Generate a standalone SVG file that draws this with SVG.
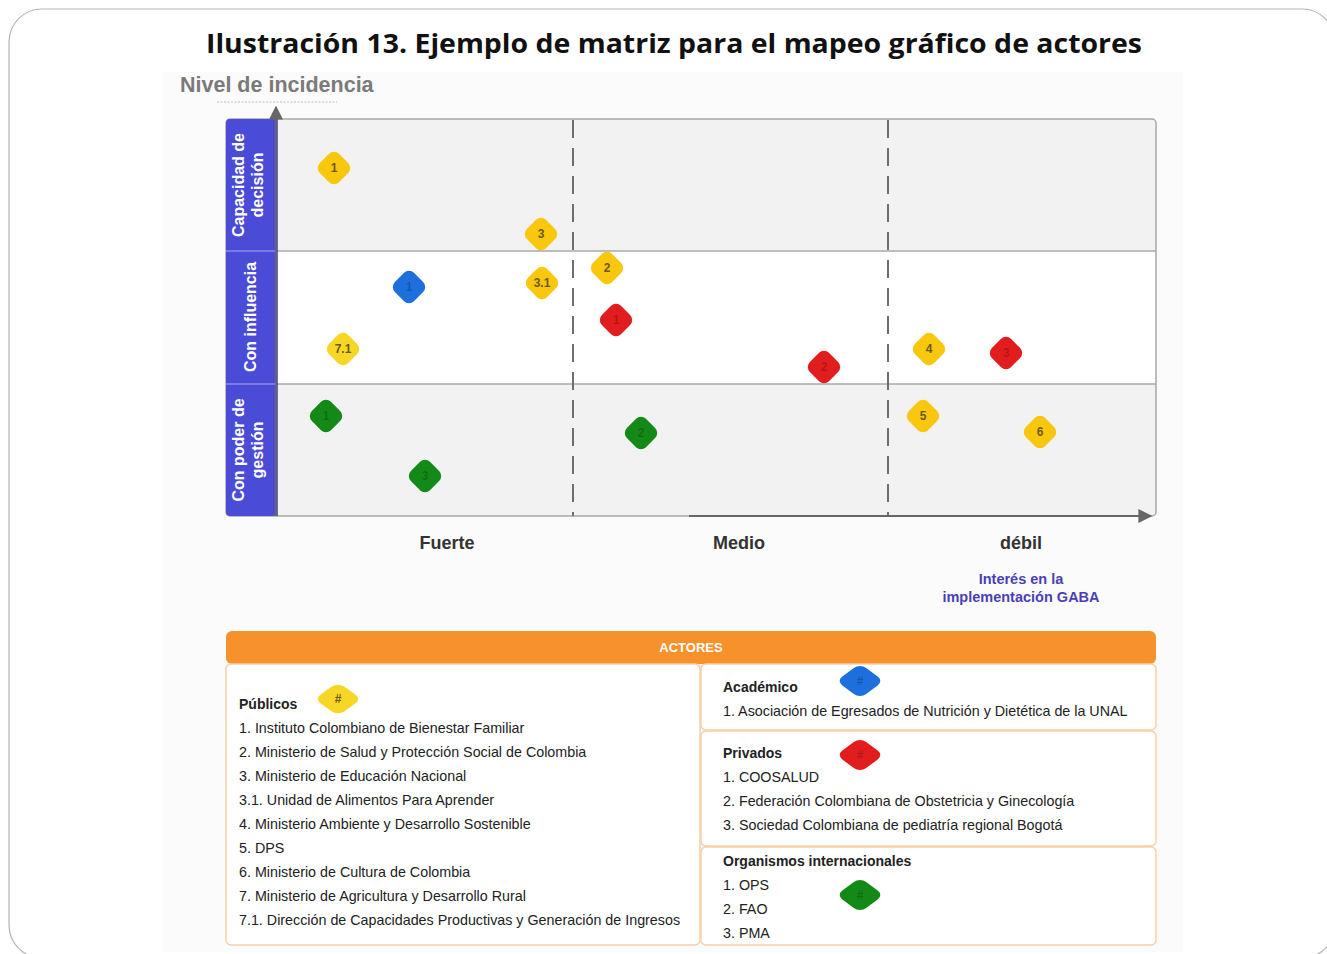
<svg xmlns="http://www.w3.org/2000/svg" xmlns:xlink="http://www.w3.org/1999/xlink" width="1327" height="954" viewBox="0 0 1327 954">
<style>
.title{font-family:"Open Sans","Noto Sans",sans-serif;font-weight:700;font-size:27px;fill:#111}
.axis{font-family:"Liberation Sans",Arial,sans-serif;font-weight:700;font-size:21.5px;fill:#7a7a7a}
.band{font-family:"Liberation Sans",Arial,sans-serif;font-weight:700;font-size:16px;fill:#fff}
.col{font-family:"Liberation Sans",Arial,sans-serif;font-weight:700;font-size:18px;fill:#333}
.interes{font-family:"Liberation Sans",Arial,sans-serif;font-weight:700;font-size:14.5px;fill:#4a3fb5}
.mk{font-family:"Liberation Sans",Arial,sans-serif;font-weight:700;font-size:12px;text-anchor:middle;dominant-baseline:central}
.mky{fill:#6b5a12}
.mkd{fill:#000;fill-opacity:0.22}
.hd{font-family:"Liberation Sans",Arial,sans-serif;font-weight:700;font-size:14px;fill:#222}
.it{font-family:"Liberation Sans",Arial,sans-serif;font-size:14.3px;fill:#222}
.box{fill:#fff;stroke:#f7cfa8;stroke-width:1.5}
.dash{stroke:#6e6e6e;stroke-width:2;stroke-dasharray:18 10;fill:none}
.grid{stroke:#a8a8a8;stroke-width:1.5;fill:none}
</style>
<defs>
<rect id="dia" x="-13.5" y="-13.5" width="27" height="27" rx="7" transform="rotate(45)"/>
<marker id="arr" viewBox="0 0 10 10" refX="9" refY="5" markerWidth="7" markerHeight="7" orient="auto"><path d="M0,0 L10,5 L0,10 z" fill="#666"/></marker>
</defs>
<!-- card -->
<rect x="9" y="9" width="1326" height="949" rx="33" fill="#fff" stroke="#b5b5b5" stroke-width="1.2"/>
<rect x="163" y="72" width="1020" height="880" fill="#fbfbfb"/>
<text class="title" x="674" y="53" text-anchor="middle" textLength="936" lengthAdjust="spacingAndGlyphs">Ilustración 13. Ejemplo de matriz para el mapeo gráfico de actores</text>
<!-- matrix -->
<g id="matrix">
<rect x="276" y="119" width="880" height="397" rx="4" fill="#f2f2f3"/>
<rect x="276" y="251" width="880" height="133" fill="#fff"/>
<rect x="226" y="119" width="930" height="397" rx="4" fill="none" stroke="#a8a8a8" stroke-width="1.5"/>
<line class="grid" x1="276" y1="251" x2="1156" y2="251"/>
<line class="grid" x1="276" y1="384" x2="1156" y2="384"/>
<line class="dash" x1="573" y1="120" x2="573" y2="516"/>
<line class="dash" x1="888" y1="120" x2="888" y2="516"/>
</g>
<g id="band">
<rect x="226" y="119" width="51" height="397" rx="4" fill="#4a4bd6"/>
<line x1="226" y1="251" x2="277" y2="251" stroke="#8c8ce6" stroke-width="1.5"/>
<line x1="226" y1="384" x2="277" y2="384" stroke="#8c8ce6" stroke-width="1.5"/>
<line x1="277" y1="119" x2="277" y2="516" stroke="#3a3aa8" stroke-width="1.5"/>
<text class="band" transform="translate(244,185) rotate(-90)" text-anchor="middle">Capacidad de</text>
<text class="band" transform="translate(263,185) rotate(-90)" text-anchor="middle">decisión</text>
<text class="band" transform="translate(256,317) rotate(-90)" text-anchor="middle">Con influencia</text>
<text class="band" transform="translate(244,450) rotate(-90)" text-anchor="middle">Con poder de</text>
<text class="band" transform="translate(263,450) rotate(-90)" text-anchor="middle">gestión</text>
</g>
<g id="connectors">
<line x1="276" y1="516" x2="276" y2="107" stroke="#666" stroke-width="2" marker-end="url(#arr)"/>
<line x1="689" y1="516" x2="1151" y2="516" stroke="#666" stroke-width="2" marker-end="url(#arr)"/>
</g>
<g id="axis-labels">
<text class="axis" x="180" y="92">Nivel de incidencia</text>
<line x1="217" y1="102" x2="337" y2="102" stroke="#bbb" stroke-width="1.2" stroke-dasharray="2 1.5"/>
<text class="col" x="447" y="549" text-anchor="middle">Fuerte</text>
<text class="col" x="739" y="549" text-anchor="middle">Medio</text>
<text class="col" x="1021" y="549" text-anchor="middle">débil</text>
<text class="interes" x="1021" y="584" text-anchor="middle">Interés en la</text>
<text class="interes" x="1021" y="602" text-anchor="middle">implementación GABA</text>
</g>
<!-- markers -->
<g id="m-y1"><use href="#dia" x="334" y="168" fill="#f8c70e"/><text class="mk mky" x="334" y="168">1</text></g>
<g id="m-y3"><use href="#dia" x="541" y="234" fill="#f8c70e"/><text class="mk mky" x="541" y="234">3</text></g>
<g id="m-y2"><use href="#dia" x="607" y="268" fill="#f8c70e"/><text class="mk mky" x="607" y="268">2</text></g>
<g id="m-y31"><use href="#dia" x="542" y="283" fill="#f8c70e"/><text class="mk mky" x="542" y="283">3.1</text></g>
<g id="m-b1"><use href="#dia" x="409" y="287" fill="#1c6fdc"/><text class="mk mkd" x="409" y="287">1</text></g>
<g id="m-r1"><use href="#dia" x="616" y="320" fill="#e21d1d"/><text class="mk mkd" x="616" y="320">1</text></g>
<g id="m-y71"><use href="#dia" x="343" y="349" fill="#f8d626"/><text class="mk mky" x="343" y="349">7.1</text></g>
<g id="m-r2"><use href="#dia" x="824" y="367" fill="#e21d1d"/><text class="mk mkd" x="824" y="367">2</text></g>
<g id="m-y4"><use href="#dia" x="929" y="349" fill="#f8c70e"/><text class="mk mky" x="929" y="349">4</text></g>
<g id="m-r3"><use href="#dia" x="1006" y="353" fill="#e21d1d"/><text class="mk mkd" x="1006" y="353">3</text></g>
<g id="m-g1"><use href="#dia" x="326" y="416" fill="#138a17"/><text class="mk mkd" x="326" y="416">1</text></g>
<g id="m-g2"><use href="#dia" x="641" y="433" fill="#138a17"/><text class="mk mkd" x="641" y="433">2</text></g>
<g id="m-y5"><use href="#dia" x="923" y="416" fill="#f8c70e"/><text class="mk mky" x="923" y="416">5</text></g>
<g id="m-y6"><use href="#dia" x="1040" y="432" fill="#f8c70e"/><text class="mk mky" x="1040" y="432">6</text></g>
<g id="m-g3"><use href="#dia" x="425" y="476" fill="#138a17"/><text class="mk mkd" x="425" y="476">3</text></g>
<!-- legend -->
<g id="actores-header">
<rect x="226" y="631" width="930" height="33" rx="6" fill="#f7912c"/>
<text x="691" y="652" text-anchor="middle" font-family="Liberation Sans, Arial, sans-serif" font-weight="700" font-size="13" fill="#fff">ACTORES</text>
</g>
<g id="publicos">
<rect class="box" x="226" y="664" width="474" height="281" rx="5"/>
<text class="hd" x="239" y="709">Públicos</text>
<g transform="translate(338,699) scale(1.25,0.88)"><use href="#dia" fill="#f8d626"/></g>
<text class="mk" x="338" y="699" fill="#6b5a12" font-size="14">#</text>
<text class="it" x="239" y="733">1. Instituto Colombiano de Bienestar Familiar</text>
<text class="it" x="239" y="757">2. Ministerio de Salud y Protección Social de Colombia</text>
<text class="it" x="239" y="781">3. Ministerio de Educación Nacional</text>
<text class="it" x="239" y="805">3.1. Unidad de Alimentos Para Aprender</text>
<text class="it" x="239" y="829">4. Ministerio Ambiente y Desarrollo Sostenible</text>
<text class="it" x="239" y="853">5. DPS</text>
<text class="it" x="239" y="877">6. Ministerio de Cultura de Colombia</text>
<text class="it" x="239" y="901">7. Ministerio de Agricultura y Desarrollo Rural</text>
<text class="it" x="239" y="925">7.1. Dirección de Capacidades Productivas y Generación de Ingresos</text>
</g>
<g id="academico">
<rect class="box" x="701" y="664" width="455" height="66" rx="5"/>
<text class="hd" x="723" y="692">Académico</text>
<g transform="translate(860,681) scale(1.25,0.92)"><use href="#dia" fill="#1c6fdc"/></g>
<text class="mk mkd" x="860" y="681" font-size="14">#</text>
<text class="it" x="723" y="716">1. Asociación de Egresados de Nutrición y Dietética de la UNAL</text>
</g>
<g id="privados">
<rect class="box" x="701" y="731" width="455" height="115" rx="5"/>
<text class="hd" x="723" y="758">Privados</text>
<g transform="translate(860,755) scale(1.25,0.92)"><use href="#dia" fill="#e21d1d"/></g>
<text class="mk mkd" x="860" y="755" font-size="14">#</text>
<text class="it" x="723" y="782">1. COOSALUD</text>
<text class="it" x="723" y="806">2. Federación Colombiana de Obstetricia y Ginecología</text>
<text class="it" x="723" y="830">3. Sociedad Colombiana de pediatría regional Bogotá</text>
</g>
<g id="organismos">
<rect class="box" x="701" y="847" width="455" height="98" rx="5"/>
<text class="hd" x="723" y="866">Organismos internacionales</text>
<g transform="translate(860,895) scale(1.25,0.92)"><use href="#dia" fill="#138a17"/></g>
<text class="mk mkd" x="860" y="895" font-size="14">#</text>
<text class="it" x="723" y="890">1. OPS</text>
<text class="it" x="723" y="914">2. FAO</text>
<text class="it" x="723" y="938">3. PMA</text>
</g>
</svg>
